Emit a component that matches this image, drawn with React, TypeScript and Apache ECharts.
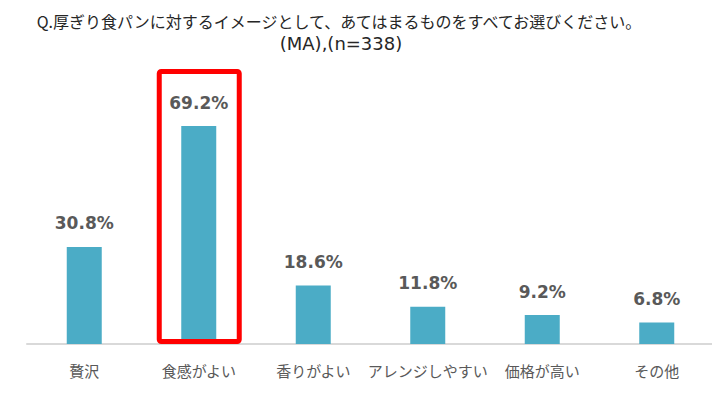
import React, { useRef, useEffect } from 'react';
import * as echarts from 'echarts';

const titleQuestion = 'Q.厚ぎり食パンに対するイメージとして、あてはまるものをすべてお選びください。';
const titleSample = '(MA),(n=338)';
const categories = ['贅沢', '食感がよい', '香りがよい', 'アレンジしやすい', '価格が高い', 'その他'];
const values = [30.8, 69.2, 18.6, 11.8, 9.2, 6.8];
const highlighted = '食感がよい';

const JP = '"Noto Sans CJK JP", "Noto Sans", sans-serif';
const LATIN = '"DejaVu Sans", sans-serif';

const App: React.FC = () => {
  const chartRef = useRef<HTMLDivElement>(null);

  useEffect(() => {
    if (!chartRef.current) return;
    const chart = echarts.init(chartRef.current, undefined, { renderer: 'svg' });

    const option: echarts.EChartsOption = {
      animation: false,
      backgroundColor: '#ffffff',
      title: [
        {
          text: titleQuestion,
          left: 331,
          textAlign: 'center',
          top: 5,
          padding: 0,
          textStyle: {
            fontFamily: JP,
            fontSize: 16,
            fontWeight: 'normal',
            color: '#262626',
            lineHeight: 16,
          },
        },
        {
          text: titleSample,
          left: 333,
          textAlign: 'center',
          top: 26,
          padding: 0,
          textStyle: {
            fontFamily: LATIN,
            fontSize: 18,
            fontWeight: 'normal',
            color: '#262626',
            lineHeight: 18,
          },
        },
      ],
      grid: { left: 19, right: 6, top: 84, bottom: 61, containLabel: false },
      xAxis: {
        type: 'category',
        data: categories,
        axisLine: { lineStyle: { color: '#d9d9d9', width: 2 } },
        axisTick: { show: false },
        axisLabel: {
          margin: 19,
          fontFamily: JP,
          fontSize: 15,
          color: '#595959',
          interval: 0,
        },
      },
      yAxis: {
        type: 'value',
        min: 0,
        max: 80,
        show: false,
        splitLine: { show: false },
      },
      series: [
        {
          type: 'bar',
          data: values,
          barWidth: 35,
          itemStyle: { color: '#4bacc6' },
          label: {
            show: true,
            position: 'top',
            distance: 15,
            formatter: (p: any) => `${p.value.toFixed(1)}%`,
            fontFamily: LATIN,
            fontSize: 17,
            fontWeight: 'bold',
            color: '#595959',
          },
        },
      ],
    };

    chart.setOption(option);

    // red frame around the highlighted category
    const idx = categories.indexOf(highlighted);
    const base = chart.convertToPixel({ gridIndex: 0 }, [idx, 0]);
    const top = chart.convertToPixel({ gridIndex: 0 }, [idx, values[idx]]);
    const frameW = 80;
    const frameTop = top[1] - 54.5;
    chart.setOption({
      graphic: [
        {
          type: 'rect',
          shape: {
            x: base[0] - frameW / 2 + 0.5,
            y: frameTop,
            width: frameW,
            height: base[1] - 2.5 - frameTop,
            r: 2,
          },
          style: { fill: 'none', stroke: '#ff0000', lineWidth: 5 },
          z: 10,
        },
      ],
    });

    return () => {
      chart.dispose();
    };
  }, []);

  return <div ref={chartRef} style={{ width: 712, height: 397 }} />;
};

export default App;
